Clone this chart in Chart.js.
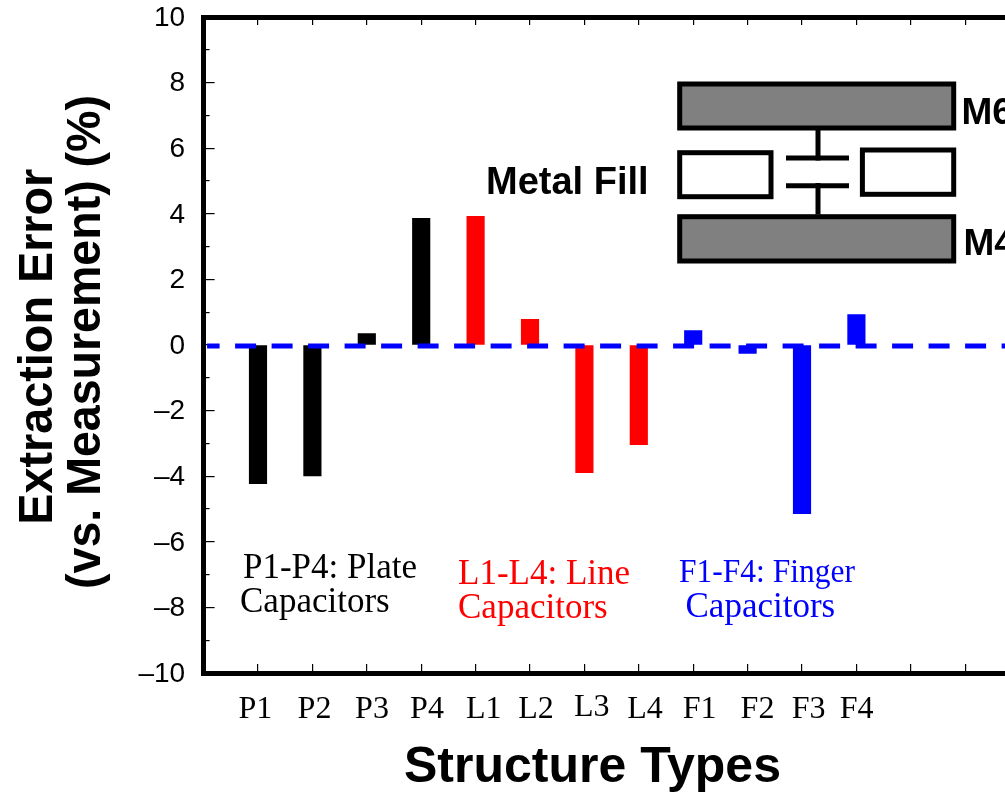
<!DOCTYPE html>
<html>
<head>
<meta charset="utf-8">
<style>
html,body{margin:0;padding:0;background:#fff;width:1005px;height:793px;overflow:hidden}
#wrap{position:relative;width:1005px;height:793px;overflow:hidden}
canvas{display:block}
</style>
<script src="https://cdn.jsdelivr.net/npm/chart.js@4"></script>
</head>
<body>
<div id="wrap"><canvas id="c" width="1040" height="793" style="width:1040px;height:793px"></canvas></div>
<script>
// ---- data ----
const categories = ['', 'P1','P2','P3','P4','L1','L2','L3','L4','F1','F2','F3','F4','', '', ''];
const errors = [null, -4.23,-3.99,0.35,3.86, 3.92,0.78,-3.89,-3.04, 0.44,-0.26,-5.14,0.93, null,null,null];
const barColors = ['#000','#000','#000','#000','#000','#f00','#f00','#f00','#f00','#00f','#00f','#00f','#00f','#000','#000','#000'];
const referenceLine = [-0.03,-0.03,-0.03,-0.03,-0.03,-0.03,-0.03,-0.03,-0.03,-0.03,-0.03,-0.03,-0.03,-0.03,-0.03,-0.03];
const xTitle = 'Structure Types';
const yTitleLine1 = 'Extraction Error';
const yTitleLine2 = '(vs. Measurement) (%)';

// ---- placement of labels and annotations ----
const labelDx = [0,-2.7,2.1,5.2,5.8,8.1,6,7.3,6.2,6.5,9.9,6.7,0.3,0,0,0];
const labelDy = [0,0,0,0,0,0,0,-2,0,0,0,0,0,0,0,0];
const SANS = '"Liberation Sans", Arial, sans-serif';
const SERIF = '"Liberation Serif", "Times New Roman", serif';
const notes = [
  {t:'P1-P4: Plate', x:243, y:577.5, c:'#000', f:'35px '+SERIF},
  {t:'Capacitors', x:240, y:611.5, c:'#000', f:'35px '+SERIF},
  {t:'L1-L4: Line', x:458, y:584, c:'#f00', f:'35px '+SERIF},
  {t:'Capacitors', x:458, y:618, c:'#f00', f:'35px '+SERIF},
  {t:'F1-F4: Finger', x:679, y:582, c:'#00f', f:'34px '+SERIF, w:176},
  {t:'Capacitors', x:685.5, y:617, c:'#00f', f:'35px '+SERIF},
  {t:'Metal Fill', x:486, y:193.5, c:'#000', f:'bold 38px '+SANS},
  {t:'M6', x:961.5, y:123.7, c:'#000', f:'bold 37px '+SANS},
  {t:'M4', x:963.5, y:255, c:'#000', f:'bold 37px '+SANS},
  {t:xTitle, x:404, y:782, c:'#000', f:'bold 50px '+SANS}
];
const rotatedNotes = [
  {t:yTitleLine1, x:51.7, y:346.7, w:356, f:'bold 49px '+SANS},
  {t:yTitleLine2, x:100, y:342, w:494, f:'bold 49px '+SANS}
];
const boxes = [
  {x:679.7, y:84, w:274, h:44, fill:'#808080'},
  {x:679.7, y:216.7, w:274, h:44.3, fill:'#808080'},
  {x:679.7, y:152.7, w:91.3, h:44, fill:'#fff'},
  {x:862.4, y:150, w:91.3, h:44.3, fill:'#fff'}
];
const wires = [
  [818,130,818,160.5],[818,183,818,214.5],
  [786,158,849,158],[786,185.7,849,185.7]
];

const annotate = {
  id:'annotate',
  afterLayout(chart){
    const xs = chart.scales.x, ys = chart.scales.y;
    xs.getLabelItems().forEach((it,i)=>{
      it.options.translation = [it.options.translation[0]+labelDx[i], it.options.translation[1]+labelDy[i]];
    });
    ys.getLabelItems().forEach(it=>{
      it.options.translation = [it.options.translation[0], it.options.translation[1]+1];
    });
    const grid = ys._computeGridLineItems(chart.chartArea);
    grid.forEach((g,i)=>{
      const v = ys.ticks[i] && ys.ticks[i].value;
      g.tx1 = chart.chartArea.left;
      g.tx2 = chart.chartArea.left + (Math.abs(v)%2===1 ? 6 : 11);
    });
    ys._gridLineItems = grid;
  },
  afterDraw(chart){
    const ctx = chart.ctx;
    ctx.save();
    ctx.strokeStyle='#000'; ctx.lineWidth=5; ctx.lineCap='butt';
    wires.forEach(w=>{ctx.beginPath();ctx.moveTo(w[0],w[1]);ctx.lineTo(w[2],w[3]);ctx.stroke();});
    boxes.forEach(b=>{ctx.fillStyle=b.fill;ctx.fillRect(b.x,b.y,b.w,b.h);ctx.strokeRect(b.x,b.y,b.w,b.h);});
    ctx.textBaseline='alphabetic'; ctx.textAlign='left';
    notes.forEach(n=>{ctx.font=n.f;ctx.fillStyle=n.c;
      if(n.w) ctx.fillText(n.t,n.x,n.y,n.w); else ctx.fillText(n.t,n.x,n.y);});
    ctx.fillStyle='#000'; ctx.textAlign='center';
    rotatedNotes.forEach(n=>{
      ctx.save(); ctx.translate(n.x,n.y); ctx.rotate(-Math.PI/2);
      ctx.font=n.f; ctx.fillText(n.t,0,0,n.w); ctx.restore();
    });
    ctx.restore();
  }
};
function noPad(s){s.paddingLeft=0;s.paddingRight=0;s.paddingTop=0;s.paddingBottom=0;}

new Chart(document.getElementById('c'),{
  type:'bar',
  data:{
    labels:categories,
    datasets:[
      {type:'line', label:'Zero reference', data:referenceLine, borderColor:'#00f', borderWidth:5,
       borderDash:[21,15.5], borderDashOffset:5, pointRadius:0, tension:0, fill:false, order:0, clip:{left:-3.5,right:0,top:0,bottom:0}},
      {type:'bar', label:'Extraction error', data:errors, backgroundColor:barColors, barThickness:17.5, order:1}
    ]
  },
  plugins:[annotate],
  options:{
    responsive:false, animation:false, devicePixelRatio:1,
    layout:{padding:{top:17,right:20.4,left:0,bottom:0}},
    plugins:{legend:{display:false},title:{display:false},tooltip:{enabled:false}},
    scales:{
      x:{
        type:'category', position:'bottom', offset:false,
        grid:{offset:false,drawOnChartArea:false,color:'#000',lineWidth:1.2,tickLength:-9},
        border:{display:true,width:5,color:'#000'},
        ticks:{autoSkip:false,maxRotation:0,minRotation:0,padding:26,color:'#000',font:{family:SERIF,size:32}},
        afterFit(s){s.height=120;noPad(s);}
      },
      x2:{
        type:'category', position:'top', offset:false,
        grid:{offset:false,drawOnChartArea:false,color:'#000',lineWidth:1.2,tickLength:-8},
        border:{display:true,width:5,color:'#000'},
        ticks:{display:false,autoSkip:false},
        afterFit(s){s.height=0;noPad(s);}
      },
      y:{
        min:-10,max:10,
        grid:{drawOnChartArea:false,color:'#000',lineWidth:1.2,tickLength:-10},
        border:{display:true,width:5,color:'#000'},
        ticks:{stepSize:1,autoSkip:false,padding:28.5,color:'#000',font:{family:SANS,size:28},
          callback(v){ if(Math.abs(v)%2===1) return ''; return v<0?'\u2013'+Math.abs(v):String(v);} },
        afterFit(s){s.width=203.6;noPad(s);}
      }
    }
  }
});
</script>
</body>
</html>
